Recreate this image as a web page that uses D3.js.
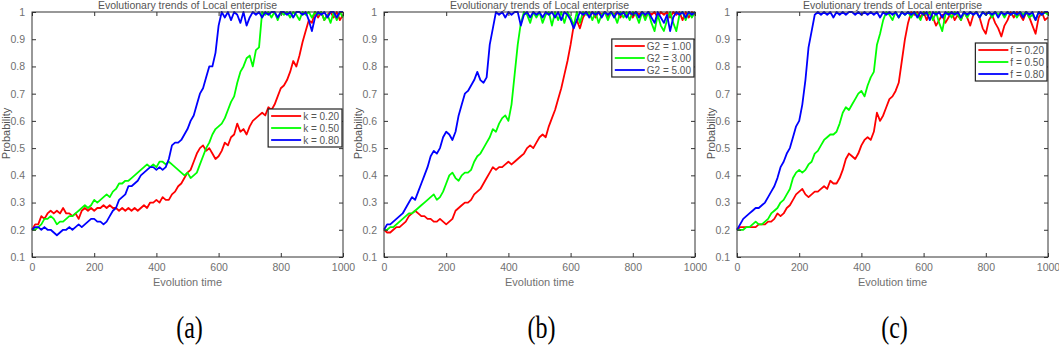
<!DOCTYPE html>
<html>
<head>
<meta charset="utf-8">
<script src="https://cdn.jsdelivr.net/npm/d3@7"></script>
<style>
  body { margin: 0; background: #fff; }
  svg { display: block; }
</style>
</head>
<body>
<svg id="chart" width="1059" height="355"></svg>
<script>
// time steps sampled every 10 units
const steps = d3.range(0, 1001, 10)

// (a) k values
const kLabels = ['k = 0.20', 'k = 0.50', 'k = 0.80']
const k020 = [0.20,0.22,0.22,0.25,0.24,0.26,0.27,0.26,0.27,0.26,
  0.28,0.26,0.26,0.25,0.26,0.24,0.27,0.28,0.27,0.28,
  0.27,0.28,0.28,0.29,0.28,0.29,0.28,0.28,0.27,0.28,
  0.27,0.28,0.27,0.28,0.27,0.28,0.29,0.28,0.30,0.30,
  0.31,0.30,0.32,0.31,0.31,0.33,0.34,0.36,0.37,0.39,
  0.41,0.42,0.45,0.48,0.50,0.51,0.49,0.50,0.48,0.46,
  0.47,0.49,0.52,0.51,0.54,0.55,0.59,0.56,0.57,0.55,
  0.58,0.60,0.61,0.62,0.63,0.62,0.65,0.64,0.66,0.69,
  0.72,0.73,0.75,0.78,0.82,0.80,0.84,0.89,0.93,0.97,
  0.96,1.00,0.98,1.00,0.97,0.99,1.00,0.98,1.00,0.97,0.99]
const k050 = [0.20,0.20,0.21,0.22,0.24,0.24,0.25,0.24,0.22,0.23,
  0.23,0.24,0.25,0.25,0.26,0.27,0.28,0.29,0.28,0.29,
  0.31,0.30,0.31,0.32,0.33,0.32,0.34,0.35,0.37,0.37,
  0.38,0.38,0.39,0.40,0.41,0.42,0.43,0.44,0.43,0.44,
  0.43,0.45,0.45,0.44,0.45,0.44,0.43,0.42,0.41,0.40,
  0.41,0.39,0.40,0.41,0.44,0.47,0.50,0.52,0.55,0.57,
  0.58,0.59,0.61,0.64,0.67,0.69,0.74,0.78,0.80,0.83,
  0.84,0.80,0.86,0.87,1.00,0.99,1.00,0.98,1.00,0.97,
  1.00,0.99,1.00,0.98,1.00,0.99,0.97,1.00,0.99,1.00,
  0.98,1.00,0.99,1.00,0.97,0.99,0.96,1.00,0.97,1.00,0.98]
const k080 = [0.20,0.21,0.21,0.20,0.21,0.20,0.20,0.19,0.18,0.19,
  0.20,0.20,0.21,0.20,0.21,0.22,0.21,0.22,0.23,0.24,
  0.24,0.23,0.23,0.22,0.23,0.25,0.27,0.28,0.31,0.32,
  0.33,0.36,0.36,0.37,0.38,0.40,0.41,0.42,0.43,0.43,
  0.42,0.43,0.42,0.43,0.46,0.51,0.52,0.52,0.53,0.55,
  0.57,0.60,0.62,0.66,0.70,0.72,0.76,0.80,0.80,0.85,
  0.95,1.00,0.98,1.00,0.97,1.00,0.99,0.96,1.00,0.95,
  0.98,1.00,0.99,1.00,0.98,1.00,0.99,1.00,1.00,0.98,
  1.00,1.00,0.99,1.00,0.98,1.00,1.00,0.99,1.00,0.97,
  0.93,0.98,1.00,0.99,1.00,0.98,1.00,1.00,0.98,1.00,1.00]

// (b) G2 values
const g2Labels = ['G2 = 1.00', 'G2 = 3.00', 'G2 = 5.00']
const g2_1 = [0.20,0.19,0.19,0.20,0.21,0.21,0.22,0.23,0.25,0.26,
  0.27,0.26,0.25,0.25,0.24,0.24,0.23,0.23,0.24,0.23,
  0.22,0.23,0.24,0.27,0.28,0.29,0.30,0.30,0.31,0.33,
  0.34,0.35,0.37,0.39,0.41,0.43,0.42,0.43,0.43,0.44,
  0.45,0.44,0.45,0.46,0.47,0.48,0.50,0.51,0.50,0.52,
  0.54,0.55,0.54,0.58,0.61,0.64,0.68,0.72,0.77,0.82,
  0.88,0.95,0.97,0.94,0.98,1.00,0.99,1.00,0.98,1.00,
  0.99,1.00,0.98,1.00,0.99,1.00,0.98,1.00,0.99,1.00,
  0.98,1.00,0.99,1.00,0.98,1.00,0.99,1.00,0.98,1.00,
  0.99,1.00,0.98,1.00,0.99,1.00,0.97,1.00,0.98,1.00,0.99]
const g2_3 = [0.20,0.20,0.21,0.21,0.22,0.23,0.24,0.25,0.26,0.26,
  0.27,0.28,0.29,0.30,0.31,0.32,0.33,0.31,0.32,0.34,
  0.37,0.40,0.41,0.39,0.38,0.40,0.41,0.41,0.42,0.45,
  0.47,0.48,0.50,0.52,0.54,0.57,0.56,0.59,0.61,0.62,
  0.60,0.66,0.77,0.88,0.96,1.00,0.99,0.96,1.00,0.98,
  1.00,0.96,0.99,1.00,0.95,1.00,0.97,1.00,0.96,1.00,
  0.98,0.95,1.00,0.96,1.00,0.99,1.00,0.97,1.00,0.96,
  0.99,1.00,0.97,1.00,0.99,0.96,1.00,0.98,1.00,0.97,
  1.00,0.99,0.96,1.00,0.97,1.00,0.96,0.93,0.99,0.95,
  0.93,0.97,1.00,0.96,0.93,0.99,1.00,0.97,1.00,0.98,1.00]
const g2_5 = [0.20,0.22,0.22,0.23,0.24,0.25,0.26,0.28,0.30,0.32,
  0.31,0.34,0.37,0.40,0.43,0.47,0.49,0.48,0.50,0.54,
  0.56,0.55,0.53,0.56,0.62,0.66,0.70,0.71,0.73,0.75,
  0.78,0.75,0.74,0.76,0.88,0.94,1.00,0.99,1.00,0.98,
  1.00,0.99,1.00,1.00,0.95,0.99,1.00,0.98,1.00,0.99,
  1.00,0.98,1.00,0.99,1.00,0.98,1.00,0.97,1.00,0.99,
  0.97,0.94,0.97,1.00,0.99,1.00,0.98,1.00,0.99,1.00,
  0.98,1.00,0.99,1.00,0.98,1.00,0.99,1.00,0.98,1.00,
  0.99,1.00,0.98,1.00,0.99,1.00,0.98,0.96,1.00,0.98,
  0.96,0.99,0.93,0.98,1.00,0.99,1.00,0.98,1.00,0.99,1.00]

// (c) f values
const fLabels = ['f = 0.20', 'f = 0.50', 'f = 0.80']
const f020 = [0.20,0.21,0.21,0.21,0.21,0.21,0.21,0.22,0.22,0.22,
  0.23,0.23,0.24,0.26,0.25,0.26,0.28,0.29,0.31,0.33,
  0.34,0.35,0.33,0.32,0.33,0.34,0.34,0.35,0.36,0.35,
  0.38,0.37,0.37,0.39,0.42,0.46,0.48,0.47,0.46,0.48,
  0.51,0.53,0.54,0.53,0.56,0.63,0.60,0.62,0.65,0.68,
  0.69,0.71,0.74,0.82,0.90,0.96,1.00,0.99,1.00,0.98,
  1.00,0.97,1.00,0.98,0.95,0.97,0.99,0.96,0.98,1.00,
  0.97,0.99,0.97,1.00,0.98,0.95,0.99,1.00,0.98,0.94,
  0.92,0.97,0.99,0.96,0.94,0.91,0.95,0.97,1.00,0.98,
  1.00,0.99,0.97,1.00,0.98,0.95,0.92,0.98,1.00,0.97,0.98]
const f050 = [0.20,0.20,0.20,0.21,0.21,0.22,0.23,0.22,0.22,0.23,
  0.24,0.26,0.27,0.28,0.30,0.31,0.33,0.35,0.39,0.41,
  0.42,0.41,0.42,0.44,0.45,0.48,0.49,0.51,0.53,0.54,
  0.55,0.55,0.56,0.59,0.63,0.65,0.64,0.66,0.68,0.70,
  0.71,0.69,0.73,0.76,0.78,0.88,0.92,0.97,1.00,0.99,
  0.97,1.00,0.98,1.00,0.99,1.00,0.98,1.00,0.99,0.97,
  1.00,0.99,1.00,0.97,1.00,0.96,0.93,0.99,1.00,0.98,
  1.00,0.99,0.97,1.00,0.98,1.00,0.99,1.00,0.98,1.00,
  0.99,1.00,0.98,1.00,0.99,1.00,0.98,1.00,0.99,1.00,
  0.98,1.00,0.99,1.00,0.98,0.99,0.97,1.00,0.99,1.00,0.99]
const f080 = [0.20,0.22,0.24,0.25,0.26,0.27,0.28,0.28,0.29,0.30,
  0.32,0.34,0.36,0.39,0.43,0.45,0.48,0.50,0.54,0.58,
  0.60,0.66,0.75,0.87,0.93,0.99,1.00,0.99,1.00,0.99,
  1.00,0.98,1.00,0.99,1.00,0.99,1.00,1.00,0.99,1.00,
  0.99,1.00,0.99,1.00,0.99,1.00,0.98,1.00,0.99,1.00,
  0.99,1.00,0.98,1.00,0.99,1.00,0.99,1.00,0.98,1.00,
  0.99,1.00,0.97,1.00,0.99,1.00,0.98,1.00,0.99,1.00,
  0.99,1.00,0.98,1.00,0.99,1.00,0.99,1.00,0.98,1.00,
  0.99,1.00,0.99,1.00,0.98,1.00,0.99,1.00,0.99,1.00,
  0.99,1.00,0.98,1.00,0.99,1.00,0.97,1.00,0.99,1.00,1.00]

const xTicks = [0, 200, 400, 600, 800, 1000]
const yTicks = [0.1, 0.2, 0.3, 0.4, 0.5, 0.6, 0.7, 0.8, 0.9, 1]
const colors = ['#ff0000', '#00ff00', '#0000ff']
const captions = ['(a)', '(b)', '(c)']

const panels = [
  { left: 32, series: [k020, k050, k080], labels: kLabels, legendTop: 109 },
  { left: 384, series: [g2_1, g2_3, g2_5], labels: g2Labels, legendTop: 39 },
  { left: 737, series: [f020, f050, f080], labels: fLabels, legendTop: 43 }
]

const PW = 311, TOP = 12, PH = 245
const svg = d3.select('#chart')
const font = 'Liberation Sans, Arial, sans-serif'

panels.forEach((p, pi) => {
  const g = svg.append('g').attr('transform', `translate(${p.left},${TOP})`)
  const x = d3.scaleLinear().domain([0, 1000]).range([0, PW])
  const y = d3.scaleLinear().domain([0.1, 1]).range([PH, 0])

  // lines (red, green, blue order so blue sits on top)
  const line = d3.line().x((d, i) => x(steps[i])).y(d => y(d))
  p.series.forEach((s, i) => {
    g.append('path')
      .attr('d', line(s))
      .attr('fill', 'none')
      .attr('stroke', colors[i])
      .attr('stroke-width', 1.8)
      .attr('stroke-linejoin', 'round')
  })

  // axes, MATLAB-ish: ticks inward on all four sides
  const axisStyle = sel => {
    sel.select('.domain').remove()
    sel.selectAll('.tick line').attr('stroke', '#333')
    sel.selectAll('.tick text')
      .attr('fill', '#707070')
      .style('font-family', font)
      .style('font-size', '10.5px')
  }
  g.append('g').attr('transform', `translate(0,${PH})`)
    .call(d3.axisBottom(x).tickValues(xTicks).tickSizeInner(-4).tickPadding(7).tickFormat(d3.format('d')))
    .call(axisStyle)
  g.append('g')
    .call(d3.axisTop(x).tickValues(xTicks).tickSizeInner(-4).tickFormat(''))
    .call(axisStyle)
  g.append('g')
    .call(d3.axisLeft(y).tickValues(yTicks).tickSizeInner(-4).tickPadding(7).tickFormat(d => d === 1 ? '1' : d3.format('.1f')(d)))
    .call(axisStyle)
  g.append('g').attr('transform', `translate(${PW},0)`)
    .call(d3.axisRight(y).tickValues(yTicks).tickSizeInner(-4).tickFormat(''))
    .call(axisStyle)

  g.append('rect')
    .attr('width', PW).attr('height', PH)
    .attr('fill', 'none').attr('stroke', '#333').attr('stroke-width', 1)

  // title and axis labels
  g.append('text')
    .attr('x', PW / 2).attr('y', -3)
    .attr('text-anchor', 'middle')
    .attr('fill', '#555')
    .style('font-family', font).style('font-size', '10.5px')
    .text('Evolutionary trends of Local enterprise')
  g.append('text')
    .attr('x', PW / 2).attr('y', PH + 29)
    .attr('text-anchor', 'middle')
    .attr('fill', '#707070')
    .style('font-family', font).style('font-size', '11px')
    .text('Evolution time')
  g.append('text')
    .attr('transform', `translate(-22,${PH / 2 - 1}) rotate(-90)`)
    .attr('text-anchor', 'middle')
    .attr('fill', '#555')
    .style('font-family', font).style('font-size', '11px')
    .text('Probability')

  // legend
  const leg = g.append('g')
  const rowH = 12
  const texts = p.labels.map((lab, i) => {
    return leg.append('text')
      .attr('y', p.legendTop - TOP + 7 + i * rowH + 4)
      .attr('fill', '#555')
      .style('font-family', font).style('font-size', '10px')
      .text(lab)
  })
  const tw = d3.max(texts, t => t.node().getComputedTextLength())
  const lw = 3 + 30 + 2 + tw + 3
  const lx = PW - 1 - lw
  leg.insert('rect', 'text')
    .attr('x', lx).attr('y', p.legendTop - TOP)
    .attr('width', lw).attr('height', 3 * rowH + 2)
    .attr('fill', '#fff').attr('stroke', '#222').attr('stroke-width', 1.2)
  p.labels.forEach((lab, i) => {
    const ly = p.legendTop - TOP + 7 + i * rowH
    leg.append('line')
      .attr('x1', lx + 3).attr('x2', lx + 33)
      .attr('y1', ly).attr('y2', ly)
      .attr('stroke', colors[i]).attr('stroke-width', 1.8)
    texts[i].attr('x', lx + 35)
  })

  // panel caption
  svg.append('text')
    .attr('transform', `translate(${p.left + PW / 2 + 2},338) scale(0.8,1.05)`)
    .attr('text-anchor', 'middle')
    .attr('fill', '#000')
    .style('font-family', 'Liberation Serif, Times New Roman, serif')
    .style('font-size', '30px')
    .text(captions[pi])
})
</script>
</body>
</html>
